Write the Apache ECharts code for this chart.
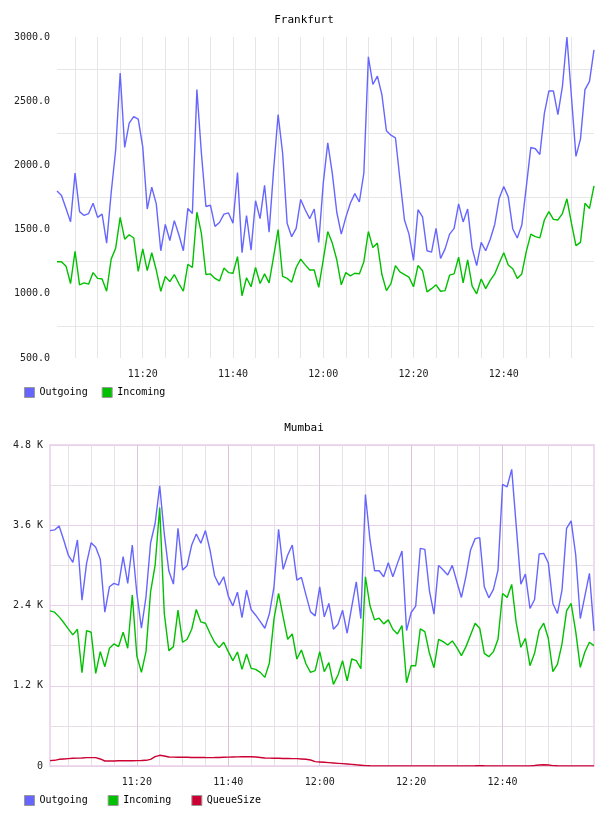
<!DOCTYPE html>
<html>
<head>
<meta charset="utf-8">
<script src="https://cdn.jsdelivr.net/npm/echarts@6/dist/echarts.min.js"></script>
<style>
  html, body { margin: 0; padding: 0; background: #fff; }
  #frankfurt, #mumbai { width: 608px; height: 408px; }
</style>
</head>
<body>
<div id="frankfurt"></div>
<div id="mumbai"></div>
<script>
// one sample per minute, 11:01 .. 13:00
const times = [];
for (let m = 11 * 60 + 1; m <= 13 * 60; m++) {
  times.push(Math.floor(m / 60) + ':' + String(m % 60).padStart(2, '0'));
}

const frankfurtOut = [
  1800, 1765, 1665, 1560, 1940, 1640, 1610, 1625, 1705, 1595,
  1620, 1395, 1785, 2120, 2720, 2140, 2330, 2380, 2360, 2145,
  1660, 1830, 1700, 1335, 1540, 1415, 1570, 1460, 1335, 1665,
  1625, 2590, 2095, 1680, 1690, 1525, 1555, 1620, 1630, 1550,
  1945, 1320, 1610, 1340, 1725, 1585, 1845, 1480, 1965, 2395,
  2095, 1550, 1445, 1510, 1735, 1655, 1585, 1660, 1400, 1860,
  2175, 1940, 1635, 1465, 1595, 1705, 1780, 1715, 1940, 2845,
  2630, 2695, 2550, 2270, 2235, 2215, 1890, 1575, 1465, 1260,
  1655, 1600, 1335, 1325, 1510, 1275, 1350, 1465, 1510, 1700,
  1560, 1660, 1355, 1220, 1400, 1335, 1425, 1540, 1745, 1835,
  1755, 1505, 1435, 1535, 1835, 2140, 2130, 2085, 2405, 2580,
  2580, 2395, 2615, 3000, 2535, 2070, 2205, 2590, 2655, 2900
];
const frankfurtIn = [
  1250, 1250, 1215, 1080, 1330, 1070, 1085, 1075, 1165, 1120,
  1115, 1020, 1270, 1355, 1595, 1425, 1460, 1435, 1175, 1350,
  1180, 1320, 1185, 1020, 1135, 1095, 1150, 1080, 1020, 1230,
  1205, 1635, 1470, 1150, 1155, 1120, 1100, 1200, 1165, 1160,
  1290, 985, 1125, 1055, 1205, 1080, 1155, 1085, 1290, 1500,
  1135, 1120, 1090, 1205, 1270, 1225, 1185, 1185, 1050, 1265,
  1485, 1395, 1265, 1070, 1165, 1140, 1160, 1155, 1250, 1485,
  1360, 1395, 1150, 1025, 1080, 1220, 1170, 1150, 1130, 1055,
  1220, 1180, 1015, 1040, 1070, 1020, 1025, 1145, 1155, 1285,
  1085, 1265, 1060, 1000, 1115, 1040, 1105, 1155, 1240, 1320,
  1225, 1195, 1120, 1155, 1330, 1465, 1445, 1435, 1575, 1640,
  1580, 1575, 1625, 1740, 1550, 1375, 1400, 1705, 1665, 1840
];

const mumbaiOut = [
  3520, 3530, 3590, 3380, 3155, 3045, 3380, 2480, 3030, 3340,
  3270, 3090, 2300, 2680, 2730, 2705, 3130, 2730, 3305, 2580,
  2060, 2530, 3335, 3630, 4190, 3470, 2915, 2720, 3555, 2930,
  2995, 3305, 3470, 3330, 3520, 3230, 2845, 2705, 2830, 2540,
  2395, 2600, 2220, 2630, 2340, 2255, 2160, 2060, 2280, 2680,
  3540, 2940, 3155, 3305, 2780, 2820, 2555, 2305, 2245, 2680,
  2230, 2430, 2045, 2120, 2330, 1985, 2380, 2755, 2205, 4060,
  3380, 2920, 2920, 2830, 3040, 2830, 3030, 3215, 2025, 2295,
  2390, 3255, 3240, 2620, 2270, 3000, 2930, 2855, 3000, 2755,
  2520, 2840, 3230, 3400, 3415, 2680, 2515, 2640, 2930, 4210,
  4175, 4435, 3580, 2720, 2870, 2355, 2490, 3170, 3180, 3040,
  2430, 2280, 2630, 3555, 3665, 3155, 2205, 2540, 2880, 2020
];
const mumbaiIn = [
  2320, 2300, 2230, 2145, 2050, 1960, 2045, 1395, 2025, 2000,
  1385, 1710, 1485, 1760, 1825, 1785, 2000, 1760, 2555, 1645,
  1400, 1710, 2605, 3005, 3865, 2280, 1725, 1785, 2330, 1850,
  1895, 2045, 2340, 2155, 2135, 1985, 1850, 1770, 1850, 1710,
  1575, 1705, 1445, 1675, 1460, 1445, 1400, 1325, 1545, 2200,
  2580, 2230, 1895, 1975, 1600, 1735, 1525, 1400, 1425, 1710,
  1410, 1545, 1220, 1360, 1575, 1275, 1600, 1575, 1455, 2830,
  2395, 2185, 2210, 2125, 2185, 2045, 1975, 2100, 1245, 1500,
  1500, 2050, 2010, 1685, 1470, 1895, 1860, 1810, 1870, 1770,
  1650, 1785, 1960, 2135, 2060, 1685, 1635, 1710, 1895, 2580,
  2520, 2715, 2135, 1775, 1910, 1500, 1685, 2025, 2135, 1910,
  1410, 1520, 1825, 2320, 2430, 2010, 1475, 1705, 1850, 1800
];
const mumbaiQueue = [
  80, 85, 100, 105, 110, 115, 118, 120, 125, 125,
  125, 105, 75, 75, 75, 78, 78, 78, 78, 80,
  82, 85, 100, 140, 160, 150, 135, 132, 130, 130,
  130, 128, 128, 128, 126, 125, 126, 128, 130, 132,
  135, 136, 138, 140, 138, 135, 128, 120, 118, 115,
  115, 112, 112, 110, 110, 105, 100, 90, 65, 60,
  55, 50, 45, 40, 35, 30, 25, 18, 12, 6,
  3, 2, 2, 2, 2, 2, 2, 2, 2, 2,
  2, 2, 2, 2, 2, 2, 2, 2, 2, 2,
  2, 2, 2, 3, 6, 3, 2, 2, 2, 2,
  2, 2, 2, 2, 2, 2, 8, 15, 18, 14,
  6, 3, 2, 2, 2, 2, 2, 2, 2, 2
];

const MONO = 'DejaVu Sans Mono';
const BLUE = '#6666ff';
const GREEN = '#00c000';
const RED = '#cc0033';

const fiveMin = (i, v) => i < times.length - 1 && /[05]$/.test(v);
const twentyMin = (i, v) => i < times.length - 1 && /:(00|20|40)$/.test(v);

function titleOf (text) {
  return {
    text: text,
    left: 'center',
    top: 10,
    textStyle: { fontFamily: MONO, fontSize: 11, fontWeight: 'normal', color: '#000' }
  };
}

function legendOf (names, gap) {
  return {
    data: names,
    left: 19,
    top: 382,
    icon: 'rect',
    itemWidth: 10,
    itemHeight: 10,
    itemGap: gap,
    itemStyle: { borderColor: '#999', borderWidth: 1 },
    textStyle: { fontFamily: MONO, fontSize: 10, color: '#000' }
  };
}

function lineOf (name, data, color) {
  return {
    name: name,
    type: 'line',
    data: data,
    showSymbol: false,
    symbol: 'none',
    color: color,
    lineStyle: { width: 1.4, color: color },
    z: 3
  };
}

const labelFont = { fontFamily: MONO, fontSize: 10, color: '#222' };

// Frankfurt
let chartFrankfurt = echarts.init(document.getElementById('frankfurt'));
chartFrankfurt.setOption({
  animation: false,
  title: titleOf('Frankfurt'),
  legend: legendOf(['Outgoing', 'Incoming'], 14),
  grid: { left: 57, right: 14, top: 37, bottom: 50 },
  xAxis: {
    type: 'category',
    data: times,
    boundaryGap: false,
    axisLine: { show: false },
    axisTick: { show: false },
    axisLabel: Object.assign({ interval: twentyMin, margin: 11 }, labelFont),
    splitLine: { show: true, interval: fiveMin, lineStyle: { color: '#e6e6e6', width: 1 } }
  },
  yAxis: {
    type: 'value',
    min: 500,
    max: 3000,
    interval: 250,
    axisLine: { show: false },
    axisTick: { show: false },
    axisLabel: Object.assign({
      margin: 7,
      formatter: v => (v % 500 === 0 ? v.toFixed(1) : '')
    }, labelFont),
    splitLine: { show: true, lineStyle: { color: ['rgba(0,0,0,0)', '#e6e6e6'], width: 1 } }
  },
  series: [
    lineOf('Outgoing', frankfurtOut, BLUE),
    lineOf('Incoming', frankfurtIn, GREEN)
  ]
});

// Mumbai
let chartMumbai = echarts.init(document.getElementById('mumbai'));
chartMumbai.setOption({
  animation: false,
  title: titleOf('Mumbai'),
  legend: legendOf(['Outgoing', 'Incoming', 'QueueSize'], 20),
  grid: {
    left: 50, right: 14, top: 37, bottom: 50,
    show: true, borderColor: '#eedcee', borderWidth: 2
  },
  xAxis: [
    {
      type: 'category',
      data: times,
      boundaryGap: false,
      axisLine: { show: false },
      axisTick: { show: false },
      axisLabel: Object.assign({ interval: twentyMin, margin: 11 }, labelFont),
      splitLine: { show: true, interval: fiveMin, lineStyle: { color: '#e8e0e8', width: 1 } }
    },
    {
      type: 'category',
      data: times,
      boundaryGap: false,
      position: 'bottom',
      axisLine: { show: false },
      axisTick: { show: false },
      axisLabel: { show: false },
      splitLine: { show: true, interval: twentyMin, lineStyle: { color: '#dcc4dc', width: 1 } }
    }
  ],
  yAxis: [
    {
      type: 'value',
      min: 0,
      max: 4800,
      interval: 600,
      axisLine: { show: false },
      axisTick: { show: false },
      axisLabel: { show: false },
      splitLine: { show: true, lineStyle: { color: '#e6dfe6', width: 1 } }
    },
    {
      type: 'value',
      min: 0,
      max: 4800,
      interval: 1200,
      position: 'left',
      axisLine: { show: false },
      axisTick: { show: false },
      axisLabel: Object.assign({
        margin: 7,
        formatter: v => (v === 0 ? '0' : (v / 1000).toFixed(1) + ' K')
      }, labelFont),
      splitLine: { show: true, lineStyle: { color: '#e8d0e8', width: 1 } }
    }
  ],
  series: [
    lineOf('Outgoing', mumbaiOut, BLUE),
    lineOf('Incoming', mumbaiIn, GREEN),
    lineOf('QueueSize', mumbaiQueue, RED)
  ]
});
</script>
</body>
</html>
